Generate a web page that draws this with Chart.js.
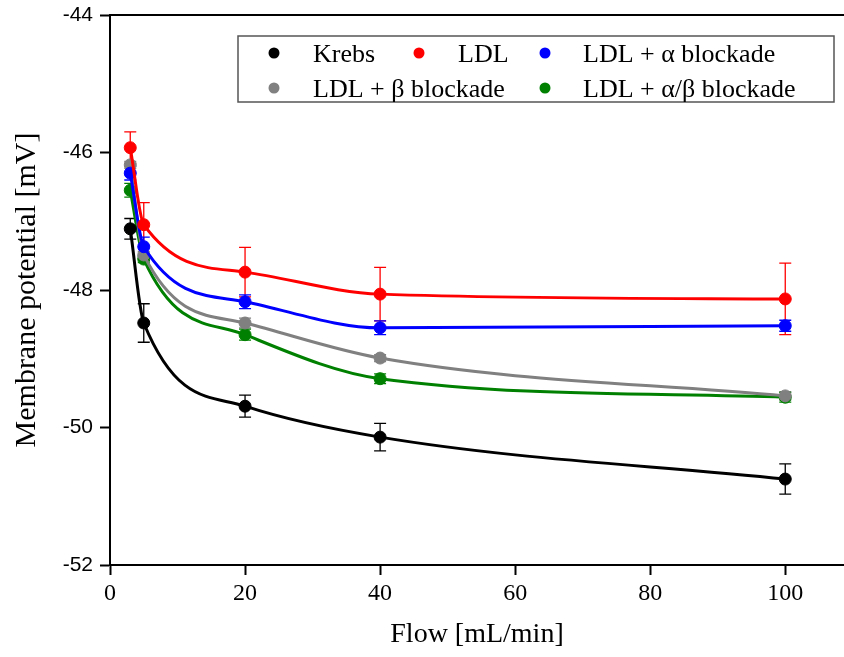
<!DOCTYPE html>
<html>
<head>
<meta charset="utf-8">
<script src="https://cdn.jsdelivr.net/npm/chart.js@4/dist/chart.umd.min.js"></script>
<style>
  html, body { margin: 0; padding: 0; background: #fff; overflow: hidden; }
  #wrap { width: 844px; height: 657px; }
</style>
</head>
<body>
<div id="wrap"><canvas id="chart"></canvas></div>
<script>
// flow rates (mL/min)
const flow = [3, 5, 20, 40, 100];

// mean membrane potential (mV) and error per group
const krebs = [-47.11, -48.48, -49.69, -50.14, -50.75];
const krebsErr = [0.15, 0.28, 0.16, 0.20, 0.22];
const ldl = [-45.93, -47.05, -47.74, -48.06, -48.13];
const ldlErr = [0.23, 0.32, 0.36, 0.39, 0.52];
const ldlAlpha = [-46.30, -47.37, -48.17, -48.55, -48.52];
const ldlAlphaErr = [0.10, 0.14, 0.10, 0.10, 0.08];
const ldlBeta = [-46.18, -47.49, -48.48, -48.99, -49.54];
const ldlBetaErr = [0.05, 0.05, 0.07, 0.05, 0.06];
const ldlAlphaBeta = [-46.55, -47.55, -48.65, -49.29, -49.56];
const ldlAlphaBetaErr = [0.10, 0.05, 0.08, 0.07, 0.07];

const seriesNames = ['Krebs', 'LDL', 'LDL + α blockade', 'LDL + β blockade', 'LDL + α/β blockade'];
const seriesColors = ['#000000', '#ff0000', '#0000ff', '#808080', '#008000'];
const seriesValues = [krebs, ldl, ldlAlpha, ldlBeta, ldlAlphaBeta];
const seriesErrors = [krebsErr, ldlErr, ldlAlphaErr, ldlBetaErr, ldlAlphaBetaErr];

const yTicks = [-52, -50, -48, -46, -44];
const xTicks = [0, 20, 40, 60, 80, 100];

const serif = "'Liberation Serif', 'Times New Roman', serif";
const sans = "'Liberation Sans', Arial, sans-serif";
Chart.defaults.font.family = serif;
Chart.defaults.color = '#000';

const datasets = seriesValues.map((vals, i) => ({
  label: seriesNames[i],
  data: flow.map((x, j) => ({ x: x, y: vals[j], err: seriesErrors[i][j] })),
  showLine: true,
  cubicInterpolationMode: 'monotone',
  borderColor: seriesColors[i],
  backgroundColor: seriesColors[i],
  borderWidth: 3,
  pointRadius: 6,
  pointBorderWidth: 1,
  pointBorderColor: seriesColors[i],
  pointBackgroundColor: seriesColors[i],
}));

// error bars with caps, drawn under the markers
const errorBars = {
  id: 'errorBars',
  beforeDatasetsDraw(chart) {
    const ctx = chart.ctx;
    const xs = chart.scales.x, ys = chart.scales.y;
    ctx.save();
    chart.data.datasets.forEach((ds) => {
      ctx.strokeStyle = ds.borderColor;
      ctx.lineWidth = 1.3;
      ds.data.forEach((p) => {
        const px = xs.getPixelForValue(p.x);
        const top = ys.getPixelForValue(p.y + p.err);
        const bot = ys.getPixelForValue(p.y - p.err);
        ctx.beginPath();
        ctx.moveTo(px, top); ctx.lineTo(px, bot);
        ctx.moveTo(px - 6, top); ctx.lineTo(px + 6, top);
        ctx.moveTo(px - 6, bot); ctx.lineTo(px + 6, bot);
        ctx.stroke();
      });
    });
    ctx.restore();
  }
};

// top frame line and the boxed two-row legend
const frameAndLegend = {
  id: 'frameAndLegend',
  afterDraw(chart) {
    const ctx = chart.ctx;
    const a = chart.chartArea;
    ctx.save();
    ctx.strokeStyle = '#000';
    ctx.lineWidth = 2;
    ctx.beginPath();
    ctx.moveTo(a.left, a.top);
    ctx.lineTo(a.right, a.top);
    ctx.stroke();

    ctx.fillStyle = '#fff';
    ctx.fillRect(238, 36, 596, 66);
    ctx.strokeStyle = '#555';
    ctx.lineWidth = 1.5;
    ctx.strokeRect(238, 36, 596, 66);

    const items = [
      { dot: [274, 53], text: [313, 62] },
      { dot: [419, 53], text: [458, 62] },
      { dot: [545, 53], text: [583, 62] },
      { dot: [274, 88], text: [313, 97] },
      { dot: [545, 88], text: [583, 97] },
    ];
    ctx.font = '26px ' + serif;
    ctx.textBaseline = 'alphabetic';
    ctx.textAlign = 'left';
    items.forEach((it, i) => {
      ctx.fillStyle = seriesColors[i];
      ctx.beginPath();
      ctx.arc(it.dot[0], it.dot[1], 5.5, 0, Math.PI * 2);
      ctx.fill();
      ctx.fillStyle = '#000';
      ctx.fillText(seriesNames[i], it.text[0], it.text[1]);
    });
    ctx.restore();
  }
};

new Chart(document.getElementById('chart'), {
  type: 'scatter',
  data: { datasets: datasets },
  options: {
    responsive: true,
    maintainAspectRatio: false,
    animation: false,
    layout: { autoPadding: false, padding: { top: 15, right: 0, left: 0, bottom: 0 } },
    plugins: {
      legend: { display: false },
      tooltip: { enabled: false },
    },
    scales: {
      x: {
        type: 'linear',
        min: 0,
        max: 108.7,
        afterFit(scale) {
          scale.height = 92;
          scale.paddingLeft = 0;
          scale.paddingRight = 0;
        },
        afterBuildTicks(scale) { scale.ticks = xTicks.map(v => ({ value: v })); },
        ticks: { font: { family: serif, size: 24 }, padding: 4, maxRotation: 0, color: '#000' },
        grid: { drawOnChartArea: false, tickLength: 10, tickWidth: 2, tickColor: '#000' },
        border: { color: '#000', width: 2 },
        title: {
          display: true,
          text: 'Flow [mL/min]',
          font: { family: serif, size: 28 },
          color: '#000',
          padding: { top: 0, bottom: 6 },
        },
      },
      y: {
        type: 'linear',
        min: -52,
        max: -44,
        afterFit(scale) {
          scale.width = 110;
          scale.paddingTop = 0;
          scale.paddingBottom = 0;
        },
        afterBuildTicks(scale) { scale.ticks = yTicks.map(v => ({ value: v })); },
        ticks: { font: { family: sans, size: 21 }, padding: 7, color: '#000' },
        grid: { drawOnChartArea: false, tickLength: 10, tickWidth: 2, tickColor: '#000' },
        border: { color: '#000', width: 2 },
        title: {
          display: true,
          text: 'Membrane potential [mV]',
          font: { family: serif, size: 30 },
          color: '#000',
          padding: { top: 9, bottom: 0 },
        },
      },
    },
  },
  plugins: [errorBars, frameAndLegend],
});
</script>
</body>
</html>
